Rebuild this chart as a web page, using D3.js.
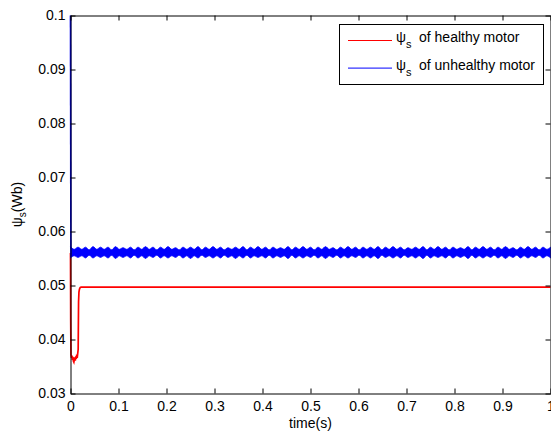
<!DOCTYPE html>
<html>
<head>
<meta charset="utf-8">
<script src="https://cdn.jsdelivr.net/npm/d3@7"></script>
<style>
  body { margin: 0; background: #fff; }
  svg { display: block; }
  text { font-family: "Liberation Sans", Arial, Helvetica, sans-serif; fill: #000; }
</style>
</head>
<body>
<svg id="chart" width="551" height="432"></svg>
<script>
// Axis ticks
const xTicks = [0, 0.1, 0.2, 0.3, 0.4, 0.5, 0.6, 0.7, 0.8, 0.9, 1];
const xTickLabels = ["0", "0.1", "0.2", "0.3", "0.4", "0.5", "0.6", "0.7", "0.8", "0.9", "1"];
const yTicks = [0.03, 0.04, 0.05, 0.06, 0.07, 0.08, 0.09, 0.1];
const yTickLabels = ["0.03", "0.04", "0.05", "0.06", "0.07", "0.08", "0.09", "0.1"];

// Stator flux of the healthy motor (time in s, flux in Wb)
const healthyTime = [0, 0.0004, 0.001, 0.002, 0.003, 0.004, 0.005, 0.006, 0.007, 0.008,
  0.009, 0.010, 0.011, 0.012, 0.013, 0.014, 0.015, 0.0160, 0.0168, 0.0176, 0.0186, 0.020,
  0.022, 0.05, 0.1, 0.15, 0.2, 0.25, 0.3, 0.35, 0.4, 0.45, 0.5, 0.55, 0.6, 0.65, 0.7,
  0.75, 0.8, 0.85, 0.9, 0.95, 1.0];
const healthyFlux = [0.0560, 0.0436, 0.0372, 0.0366, 0.0370, 0.0362, 0.0368, 0.0360, 0.0358, 0.0363,
  0.0367, 0.0361, 0.0369, 0.0364, 0.0372, 0.0366, 0.0374, 0.0382, 0.0470, 0.0488, 0.0493, 0.0496,
  0.0497, 0.0497, 0.0497, 0.0497, 0.0497, 0.0497, 0.0497, 0.0497, 0.0497, 0.0497, 0.0497, 0.0497, 0.0497, 0.0497, 0.0497,
  0.0497, 0.0497, 0.0497, 0.0497, 0.0497, 0.0497];

// Stator flux of the unhealthy motor: start-up transient, then the ripple band
const unhealthyStartTime = [0, 0.0008];
const unhealthyStartFlux = [0.1, 0.0568];
const sampleStep = 1 / 128; // envelope sampling period (s)
const unhealthyUpper = [
  0.0572,0.0567,0.0571,0.0567,0.0571,0.0566,0.0572,0.0567,0.0571,0.0567,
  0.0571,0.0566,0.0572,0.0567,0.0570,0.0567,0.0571,0.0566,0.0571,0.0567,
  0.0572,0.0567,0.0571,0.0566,0.0571,0.0567,0.0572,0.0567,0.0570,0.0566,
  0.0571,0.0567,0.0571,0.0567,0.0572,0.0566,0.0571,0.0567,0.0572,0.0567,
  0.0571,0.0566,0.0570,0.0567,0.0571,0.0567,0.0572,0.0566,0.0571,0.0567,
  0.0572,0.0567,0.0571,0.0566,0.0571,0.0567,0.0570,0.0567,0.0572,0.0566,
  0.0571,0.0567,0.0572,0.0567,0.0571,0.0566,0.0571,0.0567,0.0572,0.0567,
  0.0570,0.0566,0.0571,0.0567,0.0572,0.0567,0.0571,0.0566,0.0571,0.0567,
  0.0571,0.0567,0.0572,0.0566,0.0571,0.0567,0.0572,0.0567,0.0571,0.0566,
  0.0570,0.0567,0.0571,0.0567,0.0572,0.0566,0.0571,0.0567,0.0572,0.0567,
  0.0571,0.0566,0.0571,0.0567,0.0570,0.0567,0.0572,0.0566,0.0571,0.0567,
  0.0572,0.0567,0.0571,0.0566,0.0571,0.0567,0.0572,0.0567,0.0570,0.0566,
  0.0571,0.0567,0.0572,0.0567,0.0571,0.0566,0.0571,0.0567,0.0571];
const unhealthyLower = [
  0.0551,0.0555,0.0552,0.0555,0.0551,0.0556,0.0551,0.0555,0.0552,0.0555,
  0.0551,0.0556,0.0550,0.0555,0.0552,0.0555,0.0551,0.0556,0.0551,0.0555,
  0.0550,0.0555,0.0552,0.0556,0.0551,0.0555,0.0551,0.0555,0.0552,0.0556,
  0.0551,0.0555,0.0550,0.0555,0.0551,0.0556,0.0552,0.0555,0.0551,0.0555,
  0.0551,0.0556,0.0552,0.0555,0.0550,0.0555,0.0551,0.0556,0.0551,0.0555,
  0.0552,0.0555,0.0551,0.0556,0.0551,0.0555,0.0552,0.0555,0.0550,0.0556,
  0.0551,0.0555,0.0551,0.0555,0.0552,0.0556,0.0551,0.0555,0.0550,0.0555,
  0.0552,0.0556,0.0551,0.0555,0.0551,0.0555,0.0552,0.0556,0.0551,0.0555,
  0.0551,0.0555,0.0550,0.0556,0.0552,0.0555,0.0551,0.0555,0.0551,0.0556,
  0.0552,0.0555,0.0551,0.0555,0.0550,0.0556,0.0551,0.0555,0.0552,0.0555,
  0.0551,0.0556,0.0551,0.0555,0.0552,0.0555,0.0550,0.0556,0.0551,0.0555,
  0.0551,0.0555,0.0552,0.0556,0.0551,0.0555,0.0550,0.0555,0.0552,0.0556,
  0.0551,0.0555,0.0551,0.0555,0.0552,0.0556,0.0551,0.0555,0.0551];

const seriesNames = ["of healthy motor", "of unhealthy motor"];
const seriesColors = ["#ff0000", "#0000ff"];

const svg = d3.select("#chart");
const plotLeft = 70.5, plotRight = 550.5, plotTop = 15.5, plotBottom = 393.5;
const x = d3.scaleLinear().domain([0, 1]).range([plotLeft, plotRight]);
const y = d3.scaleLinear().domain([0.03, 0.1]).range([plotBottom, plotTop]);
const FONT = 14;

// Traces
const line = d3.line().x(d => x(d[0])).y(d => y(d[1]));
svg.append("path")
  .datum(d3.zip(healthyTime, healthyFlux))
  .attr("d", line)
  .attr("fill", "none")
  .attr("stroke", seriesColors[0])
  .attr("stroke-width", 1.7);

const band = unhealthyUpper.map((u, i) => ({ t: i * sampleStep, hi: u, lo: unhealthyLower[i] }));
svg.append("path")
  .datum(band)
  .attr("d", d3.area().curve(d3.curveMonotoneX)
    .x(d => x(d.t)).y0(d => y(d.lo)).y1(d => y(d.hi)))
  .attr("fill", seriesColors[1])
  .attr("stroke", seriesColors[1])
  .attr("stroke-width", 0.8);
svg.append("path")
  .datum(d3.zip(unhealthyStartTime, unhealthyStartFlux))
  .attr("d", line)
  .attr("fill", "none")
  .attr("stroke", seriesColors[1])
  .attr("stroke-width", 1.6);

// Axes (box with inward ticks)
function styleAxis(g) {
  g.attr("font-size", FONT).attr("font-family", null);
  g.selectAll(".domain, .tick line").attr("stroke", "#000");
  g.selectAll("text").attr("fill", "#000");
}
svg.append("g").attr("transform", `translate(0,${plotBottom})`)
  .call(d3.axisBottom(x).tickValues(xTicks).tickFormat((d, i) => xTickLabels[i])
    .tickSize(-5).tickSizeOuter(0).tickPadding(8))
  .call(styleAxis);
svg.append("g").attr("transform", `translate(0,${plotTop})`)
  .call(d3.axisTop(x).tickValues(xTicks).tickFormat("").tickSize(-5).tickSizeOuter(0))
  .call(styleAxis);
svg.append("g").attr("transform", `translate(${plotLeft},0)`)
  .call(d3.axisLeft(y).tickValues(yTicks).tickFormat((d, i) => yTickLabels[i])
    .tickSize(-5).tickSizeOuter(0).tickPadding(5))
  .call(styleAxis);
svg.append("g").attr("transform", `translate(${plotRight},0)`)
  .call(d3.axisRight(y).tickValues(yTicks).tickFormat("").tickSize(-5).tickSizeOuter(0))
  .call(styleAxis);

// Axis titles
svg.append("text")
  .attr("x", (plotLeft + plotRight) / 2).attr("y", 428)
  .attr("text-anchor", "middle").attr("font-size", FONT)
  .text("time(s)");
const yTitle = svg.append("text")
  .attr("transform", `translate(22,${(plotTop + plotBottom) / 2}) rotate(-90)`)
  .attr("text-anchor", "middle").attr("font-size", FONT);
yTitle.append("tspan").text("ψ");
yTitle.append("tspan").attr("dy", 4).attr("font-size", 10).text("s");
yTitle.append("tspan").attr("dy", -4).text("(Wb)");

// Legend
const legend = svg.append("g");
legend.append("rect")
  .attr("x", 339.5).attr("y", 24.5).attr("width", 204).attr("height", 60)
  .attr("fill", "#fff").attr("stroke", "#000").attr("stroke-width", 1);
seriesNames.forEach((name, i) => {
  const ly = 40.5 + i * 27.6;
  legend.append("line")
    .attr("x1", 348).attr("x2", 392).attr("y1", ly).attr("y2", ly)
    .attr("stroke", seriesColors[i]).attr("stroke-width", 1);
  const t = legend.append("text").attr("y", ly + 1.5).attr("font-size", FONT);
  t.append("tspan").attr("x", 396).text("ψ");
  t.append("tspan").attr("dy", 6).attr("font-size", 11).text("s");
  t.append("tspan").attr("x", 419).attr("dy", -6).text(name);
});
</script>
</body>
</html>
